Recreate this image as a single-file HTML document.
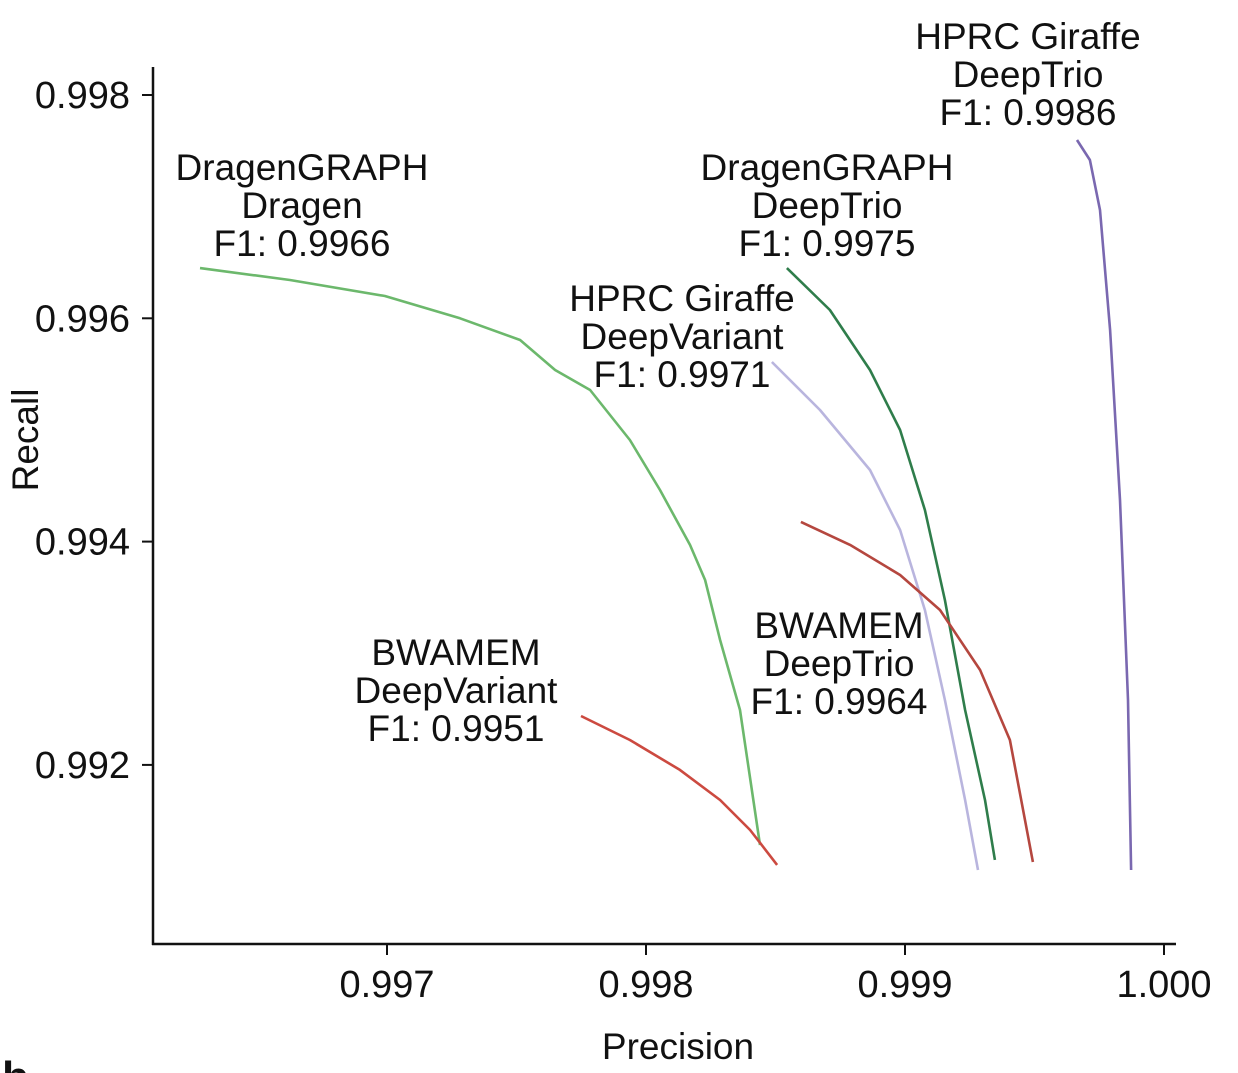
<!DOCTYPE html>
<html><head><meta charset="utf-8"><style>
html,body{margin:0;padding:0;background:#fff;}
svg{display:block;font-family:"Liberation Sans",Arial,sans-serif;}
</style></head><body>
<svg id="chart" width="1238" height="1073" viewBox="0 0 1238 1073">
<g id="axes"></g>
<g id="series"></g>
<g id="labels"></g>
<text x="678" y="1059" font-size="37" text-anchor="middle" fill="#111">Precision</text>
<text transform="translate(38,440) rotate(-90)" font-size="37" text-anchor="middle" fill="#111">Recall</text>
<text x="2" y="1092" font-size="44" font-weight="bold" fill="#111">b</text>
</svg>
<script>
const xTicks=[0.997,0.998,0.999,1.000];
const xTickLabels=["0.997","0.998","0.999","1.000"];
const yTicks=[0.992,0.994,0.996,0.998];
const yTickLabels=["0.992","0.994","0.996","0.998"];
const seriesGraph=["DragenGRAPH","DragenGRAPH","HPRC Giraffe","HPRC Giraffe","BWAMEM","BWAMEM"];
const seriesCaller=["Dragen","DeepTrio","DeepVariant","DeepTrio","DeepTrio","DeepVariant"];
const dragenP=[0.996278,0.996625,0.996992,0.997282,0.997514,0.997649,0.997784,0.997938,0.998054,0.99817,0.998228,0.998286,0.998363,0.99844];
const dragenR=[0.99645,0.996343,0.9962,0.996,0.995806,0.995537,0.995358,0.99491,0.994462,0.99397,0.993656,0.993119,0.992492,0.991283];
const dgTrioP=[0.998544,0.99871,0.998865,0.998981,0.999077,0.999154,0.999232,0.999309,0.999347];
const dgTrioR=[0.99645,0.996074,0.995537,0.995,0.994283,0.993477,0.992492,0.991686,0.991149];
const girDvP=[0.998486,0.998672,0.998865,0.998981,0.999077,0.999154,0.999232,0.999282];
const girDvR=[0.995609,0.995179,0.994641,0.994104,0.993387,0.992581,0.991686,0.991059];
const girTrioP=[0.999664,0.999714,0.999753,0.999792,0.99983,0.999861,0.999873];
const girTrioR=[0.997597,0.997418,0.99697,0.995895,0.994373,0.992581,0.991059];
const bwaTrioP=[0.998598,0.998788,0.998981,0.999135,0.99929,0.999405,0.999494];
const bwaTrioR=[0.994176,0.99397,0.993701,0.993387,0.99285,0.992223,0.99113];
const bwaDvP=[0.997749,0.997938,0.998131,0.998286,0.998402,0.998506];
const bwaDvR=[0.992438,0.992223,0.991955,0.991686,0.991417,0.991104];
const f1Labels=["F1: 0.9966","F1: 0.9975","F1: 0.9971","F1: 0.9986","F1: 0.9964","F1: 0.9951"];

const NS="http://www.w3.org/2000/svg";
function X(v){return 387+(v-0.997)*259000;}
function Y(v){return 95+(0.998-v)*111650;}
function mk(t,a,p){const e=document.createElementNS(NS,t);for(const k in a)e.setAttribute(k,a[k]);p.appendChild(e);return e;}
const axes=document.getElementById('axes');
let l=mk('line',{x1:153,y1:67,x2:153,y2:945,stroke:'#111','stroke-width':2.5},axes);


l=mk('line',{x1:152,y1:944,x2:1176,y2:944,stroke:'#111','stroke-width':2.5},axes);


xTicks.forEach((v,i)=>{
  const t=mk('line',{x1:X(v),y1:944,x2:X(v),y2:955,stroke:'#111','stroke-width':2},axes);
  
  
  const tx=mk('text',{x:X(v),y:997,'font-size':38,'text-anchor':'middle',fill:'#111'},axes);
  tx.textContent=xTickLabels[i];
  
  
});
yTicks.forEach((v,i)=>{
  const t=mk('line',{x1:142,y1:Y(v),x2:153,y2:Y(v),stroke:'#111','stroke-width':2},axes);
  
  
  const tx=mk('text',{x:130,y:Y(v)+13,'font-size':38,'text-anchor':'end',fill:'#111'},axes);
  tx.textContent=yTickLabels[i];
  
  
});
const S=document.getElementById('series');
const defs=[
 [dragenP,dragenR,'#6cb86c','curve-dragengraph-dragen'],
 [dgTrioP,dgTrioR,'#2f7d4b','curve-dragengraph-deeptrio'],
 [girDvP,girDvR,'#b9b5de','curve-giraffe-deepvariant'],
 [girTrioP,girTrioR,'#7a68b0','curve-giraffe-deeptrio'],
 [bwaTrioP,bwaTrioR,'#b5473f','curve-bwamem-deeptrio'],
 [bwaDvP,bwaDvR,'#cc4a40','curve-bwamem-deepvariant']];
defs.forEach(d=>{
  const pts=d[0].map((p,i)=>X(p).toFixed(1)+','+Y(d[1][i]).toFixed(1)).join(' ');
  const pl=mk('polyline',{points:pts,fill:'none',stroke:d[2],'stroke-width':2.6,'stroke-linejoin':'round'},S);
  
  
});
const L=document.getElementById('labels');
const labelPos=[[302,180],[827,180],[682,311],[1028,49],[839,638],[456,665]];
seriesGraph.forEach((n,i)=>{
  const lines=[n,seriesCaller[i],f1Labels[i]];
  const g=mk('text',{'font-size':37,'text-anchor':'middle',fill:'#111'},L);
  
  
  lines.forEach((s,j)=>{const ts=mk('tspan',{x:labelPos[i][0],y:labelPos[i][1]+j*38},g);ts.textContent=s;});
});
</script>
</body></html>
